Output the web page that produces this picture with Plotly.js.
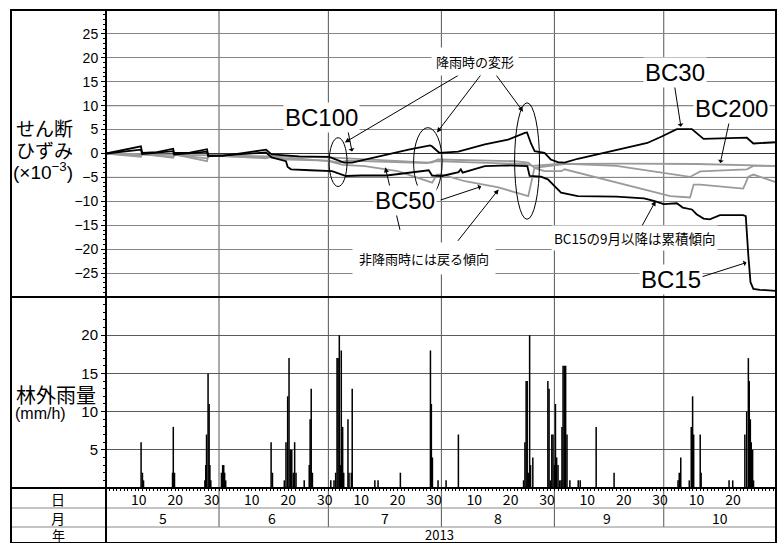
<!DOCTYPE html>
<html><head><meta charset="utf-8">
<script src="https://cdn.plot.ly/plotly-3.0.1.min.js"></script>
<style>html,body{margin:0;padding:0;background:#fff}#chart{width:782px;height:543px}</style>
</head><body><div id="chart"></div>
<script>
// ---------------- data ----------------
const xStart = '2013-05-01 00:00';
const xEnd = '2013-10-31 19:00';

const dayTickDates = ['2013-05-10','2013-05-20','2013-05-30','2013-06-10','2013-06-20','2013-06-30',
  '2013-07-10','2013-07-20','2013-07-30','2013-08-10','2013-08-20','2013-08-30',
  '2013-09-10','2013-09-20','2013-09-30','2013-10-10','2013-10-20'];
const dayTickLabels = ['10','20','30','10','20','30','10','20','30','10','20','30','10','20','30','10','20'];
const monthStarts = ['2013-06-01','2013-07-01','2013-08-01','2013-09-01','2013-10-01'];
const monthMids = ['2013-05-16 12:00','2013-06-15 12:00','2013-07-16 12:00','2013-08-16 12:00','2013-09-15 12:00','2013-10-16 12:00'];
const monthLabels = ['5','6','7','8','9','10'];
const yearMid = '2013-07-31 12:00';
const yearLabel = '2013';

const strainTicks = [-25,-20,-15,-10,-5,0,5,10,15,20,25];
const strainDarkGrid = [10,-5];
const rainTicks = [5,10,15,20];

const bc30Dates = ['2013-05-01','2013-05-10 14:00','2013-05-10 22:00','2013-05-15','2013-05-19 10:00','2013-05-19 16:00',
 '2013-05-24','2013-05-28 17:00','2013-05-29 01:00','2013-06-02','2013-06-06','2013-06-13 22:00','2013-06-15 10:00',
 '2013-06-20 07:00','2013-06-23','2013-07-01 05:00','2013-07-03','2013-07-05 07:00','2013-07-07 12:00','2013-07-16 17:00',
 '2013-07-23','2013-07-28 22:00','2013-07-29 10:00','2013-07-31 10:00','2013-08-05 15:00','2013-08-12 22:00','2013-08-19 07:00',
 '2013-08-23 22:00','2013-08-24 12:00','2013-08-25 14:00','2013-08-26 14:00','2013-08-29 07:00','2013-08-31','2013-09-01 22:00',
 '2013-09-03 19:00','2013-09-07 10:00','2013-09-14 14:00','2013-09-21 00:00','2013-09-26 12:00','2013-09-30 14:00',
 '2013-10-04 14:00','2013-10-08 17:00','2013-10-11 22:00','2013-10-23 19:00','2013-10-25 14:00','2013-10-31 18:00'];
const bc30Values = [0,1.5,0.1,0.3,1.0,0.1,0.2,0.9,-0.4,-0.5,-0.1,0.8,-0.2,-0.4,-0.6,-0.7,-1.2,-1.9,-1.9,-0.2,
 0.8,1.7,1.5,0.15,0.4,1.9,2.9,4.3,4.4,2.1,0.5,0.15,-1.25,-1.8,-1.9,-1.1,0.15,1.2,2.2,3.6,
 5.1,5.1,3.06,3.3,2.1,2.35];

const bc15Dates = ['2013-05-01','2013-05-10 14:00','2013-05-10 22:00','2013-05-19 10:00','2013-05-19 16:00','2013-05-28 17:00',
 '2013-05-29 01:00','2013-06-13 22:00','2013-06-15 10:00','2013-06-19 09:00','2013-06-19 20:00','2013-06-20 18:00','2013-06-26',
 '2013-07-02','2013-07-05 20:00','2013-07-10','2013-07-17','2013-07-28 13:00','2013-07-29 11:00','2013-08-01 05:00',
 '2013-08-05 17:00','2013-08-06 08:00','2013-08-06 20:00','2013-08-09 07:00','2013-08-12 22:00','2013-08-19 07:00',
 '2013-08-24 14:00','2013-08-25 05:00','2013-08-28 07:00','2013-08-30 05:00','2013-09-01','2013-09-02 20:00',
 '2013-09-07 10:00','2013-09-18','2013-09-25 14:00','2013-09-28 07:00','2013-10-01','2013-10-04 14:00','2013-10-06 05:00',
 '2013-10-08 17:00','2013-10-10','2013-10-11 22:00','2013-10-13 15:00','2013-10-14 15:00','2013-10-16 10:00',
 '2013-10-22 19:00','2013-10-23 12:00','2013-10-24 05:00','2013-10-24 19:00','2013-10-25 14:00','2013-10-27 09:00','2013-10-31 18:00'];
const bc15Values = [0,0.8,-0.1,0.5,-0.2,0.4,-0.6,0.2,-0.8,-1.6,-2.8,-3.3,-3.5,
 -3.7,-4.7,-4.6,-4.6,-3.5,-4.6,-4.7,-3.9,-3.3,-4.0,-3.5,-2.65,-2.5,
 -2.65,-4.7,-4.85,-5.4,-6.8,-8.2,-8.9,-9.0,-9.4,-9.9,-10.6,-10.4,-11.3,
 -11.7,-12.7,-13.6,-13.75,-13.4,-12.9,-12.9,-13.1,-21.4,-26.9,-28.3,-28.5,-28.7];

const bc50Dates = ['2013-05-01','2013-05-10 14:00','2013-05-10 22:00','2013-05-19 10:00','2013-05-19 16:00','2013-05-28 17:00',
 '2013-05-29 01:00','2013-06-13 22:00','2013-06-15 10:00','2013-06-19 09:00','2013-06-20 12:00','2013-07-01','2013-07-05',
 '2013-07-11','2013-07-20','2013-07-28 13:00','2013-07-29 11:00','2013-07-30 20:00','2013-08-01 05:00','2013-08-07 11:00',
 '2013-08-16 16:00','2013-08-24 20:00','2013-08-25 17:00','2013-08-26 13:00','2013-08-29 07:00','2013-09-02 22:00',
 '2013-09-03 19:00','2013-09-14 14:00','2013-10-02 19:00','2013-10-08 05:00','2013-10-09 05:00','2013-10-11',
 '2013-10-22 19:00','2013-10-24 05:00','2013-10-25 14:00','2013-10-31 18:00'];
const bc50Values = [0,-0.7,-0.1,-0.9,-0.2,-1.6,-0.35,-1.0,-0.6,-1.1,-0.9,-1.6,-2.4,
 -2.65,-3.7,-5.8,-6.1,-4.4,-4.4,-5.8,-7.1,-8.9,-6.1,-3.0,-3.7,-3.7,
 -3.3,-5.4,-8.9,-9.2,-6.5,-6.5,-7.35,-4.85,-4.4,-6.0];

const bc100Dates = ['2013-05-01','2013-05-10 14:00','2013-05-11','2013-05-19 10:00','2013-05-20','2013-05-28 17:00',
 '2013-05-29 06:00','2013-06-15','2013-06-20','2013-07-01','2013-07-04','2013-07-06','2013-07-28','2013-07-30',
 '2013-08-24','2013-08-26','2013-09-03','2013-09-18','2013-10-08 05:00','2013-10-11','2013-10-23 19:00',
 '2013-10-25 14:00','2013-10-31 18:00'];
const bc100Values = [0,-0.4,-0.2,-0.7,-0.3,-1.0,-0.5,-0.8,-1.3,-1.5,-1.9,-1.5,-2.0,-1.6,
 -2.2,-2.6,-2.1,-2.6,-4.9,-3.75,-3.3,-2.6,-2.6];

const bc200Dates = ['2013-05-01','2013-06-01','2013-07-01','2013-07-28 14:00','2013-07-29 11:00','2013-07-31',
 '2013-08-21 02:00','2013-08-24 20:00','2013-08-26 13:00','2013-09-03 19:00','2013-09-20','2013-10-10','2013-10-31 18:00'];
const bc200Values = [0,-0.4,-0.8,-1.9,-1.9,-1.25,-1.6,-1.9,-3.0,-2.2,-2.1,-2.2,-2.6];

const rainDates = ['2013-05-10 15:00','2013-05-11 00:00','2013-05-11 07:00','2013-05-19 06:00','2013-05-19 11:00','2013-05-19 19:00',
 '2013-05-28 03:00','2013-05-28 09:00','2013-05-28 14:00','2013-05-29 00:00','2013-05-29 07:00','2013-05-29 12:00','2013-05-29 18:00',
 '2013-06-01 16:00','2013-06-02 00:00','2013-06-02 07:00','2013-06-02 13:00','2013-06-02 20:00','2013-06-15 07:00','2013-06-15 16:00',
 '2013-06-18 22:00','2013-06-19 09:00','2013-06-19 20:00','2013-06-20 05:00','2013-06-20 13:00','2013-06-20 23:00','2013-06-21 09:00',
 '2013-06-21 18:00','2013-06-22 03:00','2013-06-24 09:00','2013-06-25 18:00','2013-06-26 00:00','2013-06-26 07:00','2013-06-26 15:00',
 '2013-07-01 16:00','2013-07-02 13:00','2013-07-03 00:00','2013-07-03 09:00','2013-07-03 16:00','2013-07-04 00:00','2013-07-04 07:00',
 '2013-07-04 13:00','2013-07-04 22:00','2013-07-05 05:00','2013-07-06 09:00','2013-07-06 16:00','2013-07-07 07:00','2013-07-07 13:00',
 '2013-07-13 18:00','2013-07-14 15:00','2013-07-20 18:00','2013-07-29 00:00','2013-07-29 06:00','2013-07-29 13:00','2013-07-31 02:00',
 '2013-08-02 07:00','2013-08-05 16:00','2013-08-23 13:00','2013-08-23 22:00','2013-08-24 06:00','2013-08-24 13:00','2013-08-24 20:00',
 '2013-08-25 05:00','2013-08-25 11:00','2013-08-26 02:00','2013-08-30 05:00','2013-08-30 13:00','2013-08-30 22:00','2013-08-31 07:00',
 '2013-08-31 15:00','2013-09-01 00:00','2013-09-01 07:00','2013-09-01 15:00','2013-09-02 00:00','2013-09-02 11:00','2013-09-02 20:00',
 '2013-09-03 02:00','2013-09-03 09:00','2013-09-03 18:00','2013-09-04 02:00','2013-09-04 11:00','2013-09-05 06:00','2013-09-07 13:00',
 '2013-09-08 02:00','2013-09-12 11:00','2013-09-17 09:00','2013-10-04 22:00','2013-10-05 06:00','2013-10-05 16:00','2013-10-08 00:00',
 '2013-10-08 13:00','2013-10-08 22:00','2013-10-09 05:00','2013-10-11 00:00','2013-10-11 06:00','2013-10-18 22:00','2013-10-19 22:00',
 '2013-10-23 06:00','2013-10-23 18:00','2013-10-24 05:00','2013-10-24 11:00','2013-10-24 18:00','2013-10-25 00:00','2013-10-25 09:00',
 '2013-10-25 15:00'];
const rainValues = [6,2,1,2,8,2,
 1,3,7,15,11,3,1,
 2,3,3,2,1,6,2,
 1,6,12,17,5,5,2,
 6,2,1,3,9,13,2,
 1,1,2,17,17,20,3,
 18,8,2,9,2,2,13,
 1,1,2,18,11,4,1,
 1,7,1,6,14,14,2,
 20,3,4,14,13,1,7,
 7,3,11,4,3,1,1,
 8,16,16,16,7,1,1,
 1,8,2,1,2,4,1,
 8,12,7,7,2,1,1,
 7,10,17,14,9,6,5,
 1];

// ---------------- layout helpers (pixel -> paper) ----------------
const W = 782, H = 543, ML = 106, MR = 6, MT = 10, MB = 55;
const PW = W - ML - MR, PH = H - MT - MB;
const px = x => (x - ML) / PW;
const py = y => (H - MB - y) / PH;
const split = py(297);

const jp = 'Noto Sans CJK JP';
const lat = 'Liberation Sans, Arial, sans-serif';
const grayCol = '#9a9a9a';

const traces = [
  {x: rainDates, y: rainValues, type: 'bar', xaxis: 'x', yaxis: 'y', width: 10*3600*1000,
   marker: {color: '#000', line: {width: 0}}, name: '林外雨量', hoverinfo: 'skip'},
  {x: bc200Dates, y: bc200Values, xaxis: 'x2', yaxis: 'y2', mode: 'lines', name: 'BC200', line: {color: grayCol, width: 1.8}},
  {x: bc100Dates, y: bc100Values, xaxis: 'x2', yaxis: 'y2', mode: 'lines', name: 'BC100', line: {color: grayCol, width: 1.8}},
  {x: bc50Dates, y: bc50Values, xaxis: 'x2', yaxis: 'y2', mode: 'lines', name: 'BC50', line: {color: grayCol, width: 1.8}},
  {x: bc15Dates, y: bc15Values, xaxis: 'x2', yaxis: 'y2', mode: 'lines', name: 'BC15', line: {color: '#000', width: 1.8}},
  {x: bc30Dates, y: bc30Values, xaxis: 'x2', yaxis: 'y2', mode: 'lines', name: 'BC30', line: {color: '#000', width: 1.8}}
];

const shapes = [];
monthStarts.forEach(d => shapes.push({type: 'line', xref: 'x', yref: 'paper', x0: d, x1: d, y0: py(527), y1: 1,
  line: {color: '#555', width: 1}, layer: 'below'}));
strainDarkGrid.forEach(v => shapes.push({type: 'line', xref: 'paper', yref: 'y2', x0: 0, x1: 1, y0: v, y1: v,
  line: {color: '#3a3a3a', width: 1}, layer: 'below'}));
shapes.push({type: 'line', xref: 'paper', yref: 'paper', x0: px(11), x1: 1, y0: py(508), y1: py(508), line: {color: '#888', width: 1}});
shapes.push({type: 'line', xref: 'paper', yref: 'paper', x0: px(11), x1: 1, y0: py(527), y1: py(527), line: {color: '#888', width: 1}});
shapes.push({type: 'line', xref: 'paper', yref: 'paper', x0: px(11), x1: 1, y0: split, y1: split, line: {color: '#000', width: 2}});
shapes.push({type: 'line', xref: 'paper', yref: 'paper', x0: px(11), x1: 1, y0: 0, y1: 0, line: {color: '#000', width: 2}});
shapes.push({type: 'line', xref: 'paper', yref: 'paper', x0: 0, x1: 0, y0: py(543), y1: 1, line: {color: '#000', width: 2}});
shapes.push({type: 'rect', xref: 'paper', yref: 'paper', x0: px(11), x1: 1, y0: py(543), y1: 1, line: {color: '#000', width: 2}});
// ellipses marking rain-time deformation
[['2013-07-01 05:00','2013-07-06 03:00',3.3,-6.9],
 ['2013-07-24 09:00','2013-08-01 05:00',5.4,-9.0],
 ['2013-08-21 02:00','2013-08-27 22:00',10.6,-13.75]].forEach(e => shapes.push({type: 'circle', xref: 'x2', yref: 'y2',
  x0: e[0], x1: e[1], y0: e[2], y1: e[3], line: {color: '#000', width: 1}}));

const ann = [];
function label(text, x, y, size, font, extra) {
  ann.push(Object.assign({text: text, xref: 'paper', yref: 'paper', x: px(x), y: py(y), showarrow: false,
    xanchor: 'center', yanchor: 'middle', font: {family: font, size: size, color: '#000'}}, extra || {}));
}
function arrow(xd, yv, ax, ay, head) {
  ann.push({text: '', xref: 'x2', yref: 'y2', x: xd, y: yv, ax: ax, ay: ay, showarrow: true,
    arrowhead: head, arrowsize: 1, arrowwidth: 1, arrowcolor: '#000', standoff: 0, startstandoff: 0});
}
arrow('2013-07-07 12:00', 0.4, -5, -25, 1);
arrow('2013-07-05 12:00', 2.3, 115, -68, 2);
arrow('2013-07-30 19:00', 4.4, 45, -59, 2);
arrow('2013-08-23 10:00', 8.75, -28, -38, 2);
arrow('2013-07-16 15:00', -2.9, 15, 64, 2);
arrow('2013-08-16 17:00', -7.5, -42, 53, 2);
arrow('2013-08-11 22:00', -6.9, -42, 14, 1);
arrow('2013-10-05 17:00', 5.6, -7, -45, 1);
arrow('2013-10-16 12:00', -2.0, 10, -46, 1);
arrow('2013-09-28 19:00', -9.9, -17, 31, 2);
arrow('2013-10-23 17:00', -22.8, -47, 15, 1);

const wb = {bgcolor: '#fff', borderpad: 1};
label('BC100', 321, 117.5, 24, lat, wb);
label('BC30', 675, 72.5, 24, lat, wb);
label('BC200', 731, 108, 24, lat, wb);
label('BC50', 405, 200, 24, lat, wb);
label('BC15', 671, 279, 24, lat, wb);
label('降雨時の変形', 475, 62, 13, jp, {bgcolor: '#fff', borderpad: 4});
label('非降雨時には戻る傾向', 424, 258, 13, jp, {bgcolor: '#fff', borderpad: 6});
label('BC15の9月以降は累積傾向', 634, 238, 13.5, jp, {bgcolor: '#fff', borderpad: 2});

label('せん断', 14, 127.5, 19, jp, {xanchor: 'left'});
label('ひずみ', 14, 149, 19, jp, {xanchor: 'left'});
label('(×10<sup>−3</sup>)', 11, 171.5, 19, lat, {xanchor: 'left'});
label('林外雨量', 14, 394, 20, jp, {xanchor: 'left'});
label('(mm/h)', 13, 413, 16, lat, {xanchor: 'left'});
label('日', 58, 498.5, 14, jp);
label('月', 58, 517.5, 14, jp);
label('年', 58, 534, 13, jp);

monthMids.forEach((d, i) => ann.push({text: monthLabels[i], xref: 'x', yref: 'paper', x: d, y: py(517.5), showarrow: false,
  xanchor: 'center', yanchor: 'middle', font: {family: jp, size: 14, color: '#000'}}));
ann.push({text: yearLabel, xref: 'x', yref: 'paper', x: yearMid, y: py(534), showarrow: false,
  xanchor: 'center', yanchor: 'middle', font: {family: jp, size: 13, color: '#000'}});

const layout = {
  width: W, height: H,
  margin: {l: ML, r: MR, t: MT, b: MB, pad: 0},
  paper_bgcolor: '#fff', plot_bgcolor: '#fff',
  showlegend: false,
  font: {family: lat, color: '#000', size: 12},
  xaxis: {type: 'date', range: [xStart, xEnd], domain: [0, 1], anchor: 'y',
    tickmode: 'array', tickvals: dayTickDates, ticktext: dayTickLabels,
    ticks: 'outside', ticklen: 2, tickcolor: '#000', showgrid: false, zeroline: false, showline: false,
    ticklabelstandoff: -3,
    tickfont: {family: jp, size: 14, color: '#000'},
    minor: {dtick: 86400000, tick0: '2013-05-01', ticks: 'outside', ticklen: 2, tickcolor: '#000', showgrid: false}},
  xaxis2: {type: 'date', range: [xStart, xEnd], domain: [0, 1], anchor: 'y2', matches: 'x',
    showticklabels: false, ticks: '', showgrid: false, zeroline: false, showline: false},
  yaxis: {domain: [0, split], range: [0, 25], tickmode: 'array', tickvals: rainTicks,
    ticks: 'outside', ticklen: 4, tickcolor: '#000', showgrid: true, gridcolor: '#5a5a5a', gridwidth: 1,
    zeroline: false, showline: false, tickfont: {family: lat, size: 15, color: '#000'},
    minor: {dtick: 1, ticks: 'outside', ticklen: 2, tickcolor: '#000', showgrid: false}},
  yaxis2: {domain: [split, 1], range: [-30, 30], tickmode: 'array', tickvals: strainTicks,
    ticks: 'outside', ticklen: 4, tickcolor: '#000', showgrid: true, gridcolor: '#858585', gridwidth: 1,
    zeroline: true, zerolinecolor: '#333', zerolinewidth: 1, showline: false,
    tickfont: {family: lat, size: 14, color: '#000'},
    minor: {dtick: 1, ticks: 'outside', ticklen: 2, tickcolor: '#000', showgrid: false}},
  shapes: shapes,
  annotations: ann
};

Plotly.newPlot('chart', traces, layout, {staticPlot: true, displayModeBar: false});
</script></body></html>
